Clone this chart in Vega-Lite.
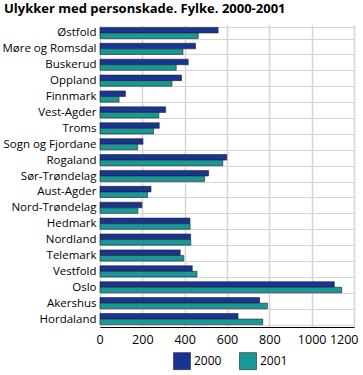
{
  "$schema": "https://vega.github.io/schema/vega-lite/v6.json",
  "width": 254,
  "height": 302,
  "autosize": "none",
  "padding": {"left": 100, "top": 25, "right": 9, "bottom": 48},
  "background": "white",
  "title": {
    "text": "Ulykker med personskade. Fylke. 2000-2001",
    "anchor": "start",
    "frame": "group",
    "dx": -96,
    "dy": 5,
    "offset": 8,
    "font": "Open Sans",
    "fontSize": 13,
    "fontWeight": "bold",
    "color": "#000000"
  },
  "data": {
    "values": [
      {"fylke": "Østfold", "year": "2000", "value": 558},
      {"fylke": "Østfold", "year": "2001", "value": 464},
      {"fylke": "Møre og Romsdal", "year": "2000", "value": 451},
      {"fylke": "Møre og Romsdal", "year": "2001", "value": 392},
      {"fylke": "Buskerud", "year": "2000", "value": 417},
      {"fylke": "Buskerud", "year": "2001", "value": 360},
      {"fylke": "Oppland", "year": "2000", "value": 385},
      {"fylke": "Oppland", "year": "2001", "value": 340},
      {"fylke": "Finnmark", "year": "2000", "value": 120},
      {"fylke": "Finnmark", "year": "2001", "value": 90},
      {"fylke": "Vest-Agder", "year": "2000", "value": 310},
      {"fylke": "Vest-Agder", "year": "2001", "value": 278},
      {"fylke": "Troms", "year": "2000", "value": 280},
      {"fylke": "Troms", "year": "2001", "value": 253},
      {"fylke": "Sogn og Fjordane", "year": "2000", "value": 203},
      {"fylke": "Sogn og Fjordane", "year": "2001", "value": 178},
      {"fylke": "Rogaland", "year": "2000", "value": 599},
      {"fylke": "Rogaland", "year": "2001", "value": 580},
      {"fylke": "Sør-Trøndelag", "year": "2000", "value": 513},
      {"fylke": "Sør-Trøndelag", "year": "2001", "value": 494},
      {"fylke": "Aust-Agder", "year": "2000", "value": 241},
      {"fylke": "Aust-Agder", "year": "2001", "value": 225},
      {"fylke": "Nord-Trøndelag", "year": "2000", "value": 198},
      {"fylke": "Nord-Trøndelag", "year": "2001", "value": 179},
      {"fylke": "Hedmark", "year": "2000", "value": 425},
      {"fylke": "Hedmark", "year": "2001", "value": 426},
      {"fylke": "Nordland", "year": "2000", "value": 428},
      {"fylke": "Nordland", "year": "2001", "value": 429},
      {"fylke": "Telemark", "year": "2000", "value": 379},
      {"fylke": "Telemark", "year": "2001", "value": 396},
      {"fylke": "Vestfold", "year": "2000", "value": 436},
      {"fylke": "Vestfold", "year": "2001", "value": 458},
      {"fylke": "Oslo", "year": "2000", "value": 1107},
      {"fylke": "Oslo", "year": "2001", "value": 1142},
      {"fylke": "Akershus", "year": "2000", "value": 754},
      {"fylke": "Akershus", "year": "2001", "value": 791},
      {"fylke": "Hordaland", "year": "2000", "value": 652},
      {"fylke": "Hordaland", "year": "2001", "value": 769}
    ]
  },
  "mark": {"type": "bar", "stroke": "#222222", "strokeWidth": 0.6},
  "encoding": {
    "y": {
      "field": "fylke",
      "type": "nominal",
      "sort": null,
      "title": null,
      "scale": {"paddingInner": 0.3, "paddingOuter": 0.15},
      "axis": {
        "ticks": false,
        "domain": false,
        "grid": true,
        "tickBand": "extent",
        "gridColor": "#d4d4d4",
        "gridWidth": 1,
        "labelPadding": 4,
        "labelFont": "Open Sans",
        "labelFontSize": 11.5,
        "labelColor": "#000000"
      }
    },
    "yOffset": {"field": "year", "type": "nominal"},
    "x": {
      "field": "value",
      "type": "quantitative",
      "title": null,
      "scale": {"domain": [0, 1200], "nice": false},
      "axis": {
        "values": [0, 200, 400, 600, 800, 1000, 1200],
        "format": "d",
        "labelOverlap": false,
        "labelFlush": true,
        "labelFlushOffset": 4,
        "grid": true,
        "gridColor": "#d4d4d4",
        "gridWidth": 1.5,
        "ticks": false,
        "domain": true,
        "domainColor": "#000000",
        "labelFont": "Open Sans",
        "labelFontSize": 12.5,
        "labelColor": "#000000",
        "labelPadding": 6
      }
    },
    "color": {
      "field": "year",
      "type": "nominal",
      "title": null,
      "scale": {"domain": ["2000", "2001"], "range": ["#1a3591", "#1a9896"]},
      "legend": {
        "orient": "none",
        "direction": "horizontal",
        "legendX": 73,
        "legendY": 327,
        "symbolType": "square",
        "symbolSize": 289,
        "symbolStrokeColor": "#222222",
        "symbolStrokeWidth": 0.6,
        "labelFont": "Open Sans",
        "labelFontSize": 12,
        "labelColor": "#000000",
        "columnPadding": 16,
        "labelOffset": 3
      }
    }
  },
  "config": {"view": {"stroke": null}}
}
